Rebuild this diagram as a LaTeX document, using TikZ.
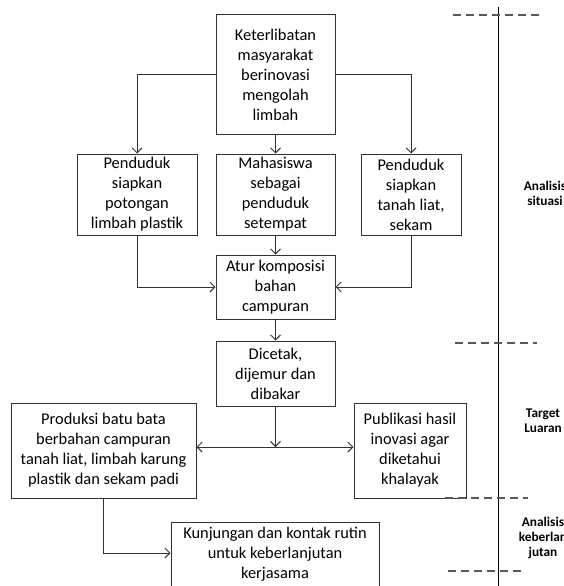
\documentclass[tikz,border=0pt]{standalone}
\usepackage{fontspec}
\setmainfont{Carlito}
\usetikzlibrary{arrows.meta}
\tikzset{
  box/.style={draw=black!80, line width=1pt, inner sep=0pt, align=center,
    font=\fontsize{16.4}{20}\selectfont, text=black},
  conn/.style={draw=black!80, line width=1pt, -{Straight Barb[length=5pt,width=10pt,line width=0.9pt]}},
  bothconn/.style={draw=black!80, line width=1pt, {Straight Barb[length=5pt,width=10pt,line width=0.9pt]}-{Straight Barb[length=5pt,width=10pt,line width=0.9pt]}},
  sep/.style={draw=black!65, line width=1.3pt, dash pattern=on 8pt off 5pt},
  lab/.style={align=center, font=\fontsize{13.3}{15}\selectfont\bfseries, text=black, inner sep=0pt}
}
\begin{document}
\begin{tikzpicture}[x=1pt,y=-1pt]
\clip (0,0) rectangle (564,586);
\fill[white] (0,0) rectangle (564,586);
% boxes
\node[box, minimum width=119pt, minimum height=119pt] (top) at (275.5,74.5)
  {Keterlibatan\\masyarakat\\berinovasi\\mengolah\\limbah};
\node[box, minimum width=120pt, minimum height=81pt] (p1) at (137,194.5)
  {Penduduk\\siapkan\\potongan\\limbah plastik};
\node[box, minimum width=119pt, minimum height=81pt] (p2) at (275.5,194.5)
  {Mahasiswa\\sebagai\\penduduk\\setempat};
\node[box, minimum width=100pt, minimum height=81pt] (p3) at (411,194.5)
  {Penduduk\\siapkan\\tanah liat,\\sekam};
\node[box, minimum width=119pt, minimum height=64pt] (atur) at (275.5,287)
  {Atur komposisi\\bahan\\campuran};
\node[box, minimum width=119pt, minimum height=65pt] (dic) at (275.5,373.5)
  {Dicetak,\\dijemur dan\\dibakar};
\node[box, minimum width=185pt, minimum height=95pt] (prod) at (103.5,450.5)
  {Produksi batu bata\\berbahan campuran\\tanah liat, limbah karung\\plastik dan sekam padi};
\node[box, minimum width=112pt, minimum height=95pt] (pub) at (410,450.5)
  {Publikasi hasil\\inovasi agar\\diketahui\\khalayak};
\node[box, minimum width=208pt, minimum height=65pt] (kun) at (275,554.5)
  {Kunjungan dan kontak rutin\\untuk keberlanjutan\\kerjasama};
% connectors
\draw[conn] (top.west) -- (top.west -| p1.north) -- (p1.north);
\draw[conn] (top.east) -- (top.east -| p3.north) -- (p3.north);
\draw[conn] (top.south) -- (p2.north);
\draw[conn] (p1.south) -- (p1.south |- atur.west) -- (atur.west);
\draw[conn] (p3.south) -- (p3.south |- atur.east) -- (atur.east);
\draw[conn] (p2.south) -- (atur.north);
\draw[conn] (atur.south) -- (dic.north);
\coordinate (j) at (275.5,447);
\draw[conn] (dic.south) -- (j);
\draw[bothconn] (prod.east |- j) -- (pub.west |- j);
\draw[conn] (prod.south) -- (prod.south |- 0,553) -- (kun.west |- 0,553);
% right-hand axis
\coordinate (vt) at (498,7);
\coordinate (vb) at (498,590);
\draw[black, line width=0.9pt] (vt) -- (vb);
\coordinate (d1a) at (453,15); \coordinate (d1b) at (543,15);
\coordinate (d2a) at (455,343); \coordinate (d2b) at (537,343);
\coordinate (d3a) at (445,498); \coordinate (d3b) at (528,498);
\coordinate (d4a) at (448,571); \coordinate (d4b) at (522,571);
\draw[sep] (d1a) -- (d1b);
\draw[sep] (d2a) -- (d2b);
\draw[sep] (d3a) -- (d3b);
\draw[sep] (d4a) -- (d4b);
% labels
\node[lab] (l1) at (545,193.5) {Analisis\\situasi};
\node[lab] (l2) at (543,420.5) {Target\\Luaran};
\node[lab] (l3) at (543,538) {Analisis\\keberlan\\jutan};
\end{tikzpicture}
\end{document}
